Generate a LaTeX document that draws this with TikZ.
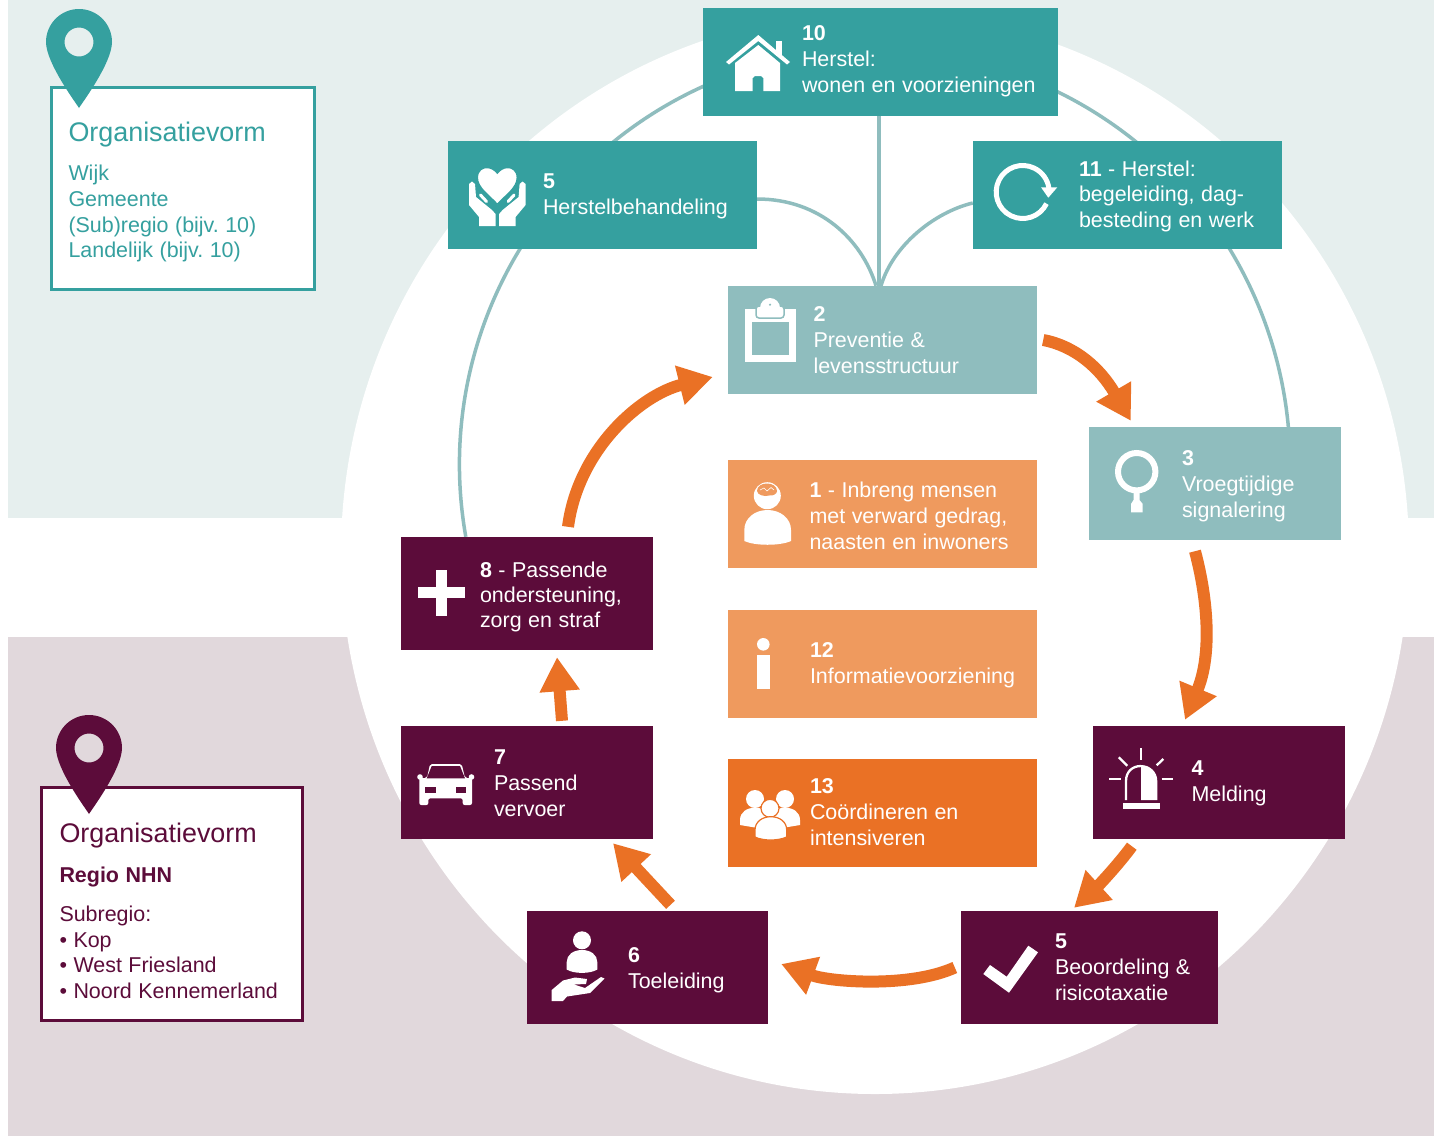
\documentclass[tikz,border=0pt]{standalone}
\usepackage{fontspec}
\setmainfont{Liberation Sans}
\usetikzlibrary{arrows.meta,backgrounds}

\definecolor{wijkbg}{HTML}{E6EFEE}
\definecolor{regiobg}{HTML}{E1D8DC}
\definecolor{tealbox}{HTML}{35A09F}
\definecolor{paletealbox}{HTML}{8FBDBE}
\definecolor{plumbox}{HTML}{5C0C3A}
\definecolor{softorange}{HTML}{EF9A5E}
\definecolor{deeporange}{HTML}{EA7125}

\newcommand{\stepfont}{\fontsize{21.45}{26}\selectfont\frenchspacing}
\newcommand{\infofont}{\fontsize{21.45}{25.7}\selectfont\frenchspacing}
\newcommand{\titlefont}{\fontsize{26.9}{25.7}\selectfont}

\tikzset{
  stepbox/.style n args={5}{fill=#1, text=white, font=\stepfont, align=left, inner sep=0pt,
    text width=#2pt, minimum height=#3pt, text depth=#5pt, execute at begin node={\leftskip=#4pt\spaceskip=6.5pt}},
  infobox/.style n args={5}{draw=#1, fill=white, text=#1, line width=3pt, font=\infofont, align=left, inner sep=0pt,
    text width=#2pt, minimum height=#3pt, text depth=#5pt, execute at begin node={\leftskip=#4pt\spaceskip=6.5pt}},
  ringline/.style={draw=paletealbox, line width=3.5pt},
  flowarrow/.style={draw=deeporange, line width=12pt, -{Triangle[length=34pt,width=38pt,fill=deeporange]}},
  locationpin/.pic={
    \path[pic actions, even odd rule] (0,0) .. controls (-3,-5) and (-33,-45) .. (-33,-66)
      arc[start angle=180, end angle=360, radius=33] .. controls (33,-45) and (3,-5) .. (0,0)
      (0,-66) circle[radius=14.5];
  }
}

\begin{document}
\begin{tikzpicture}[x=1pt,y=-1pt]
\useasboundingbox (0,0) rectangle (1434,1136);

\begin{scope}[on background layer]
\fill[wijkbg] (8,0) rectangle (1434,518);
\fill[regiobg] (8,637) rectangle (1434,1136);
\fill[white] (875,553) ellipse [x radius=534, y radius=541];
\end{scope}

% herstel
\node[stepbox={tealbox}{355}{108}{99}{58.6}] (wonen) at (880.5,62) {\textbf{10}\\Herstel:\\wonen en voorzieningen};
\node[stepbox={tealbox}{309}{108}{95}{27.6}] (herstelbeh) at (602.5,195) {\textbf{5}\\Herstelbehandeling};
\node[stepbox={tealbox}{309}{108}{106}{52.6}] (begeleiding) at (1127.5,195) {\textbf{11} - Herstel:\\[-0.5pt]begeleiding, dag-\\[-0.5pt]besteding en werk};

% keten
\node[stepbox={paletealbox}{309}{108}{85.5}{52.6}] (preventie) at (882.5,340) {\textbf{2}\\Preventie \&\\levensstructuur};
\node[stepbox={paletealbox}{252}{113}{93}{51.6}] (signalering) at (1215,483.5) {\textbf{3}\\Vroegtijdige\\signalering};
\node[stepbox={plumbox}{252}{113}{98.5}{28.2}] (melding) at (1219,782.5) {\textbf{4}\\Melding};
\node[stepbox={plumbox}{257}{113}{94}{53.2}] (beoordeling) at (1089.5,967.5) {\textbf{5}\\Beoordeling \&\\risicotaxatie};
\node[stepbox={plumbox}{241}{113}{101}{24.2}] (toeleiding) at (647.5,967.5) {\textbf{6}\\Toeleiding};
\node[stepbox={plumbox}{252}{113}{93}{51.6}] (vervoer) at (527,782.5) {\textbf{7}\\Passend\\vervoer};
\node[stepbox={plumbox}{252}{113}{79}{47.6}] (ondersteuning) at (527,593.5) {\textbf{8} - Passende\\[-1pt]ondersteuning,\\[-1pt]zorg en straf};

% midden
\node[stepbox={softorange}{309}{108}{81.5}{48.6}] (inbreng) at (882.5,514) {\textbf{1} - Inbreng mensen\\met verward gedrag,\\naasten en inwoners};
\node[stepbox={softorange}{309}{108}{82}{28.6}] (informatie) at (882.5,664) {\textbf{12}\\Informatievoorziening};
\node[stepbox={deeporange}{309}{108}{82}{54.6}] (coordineren) at (882.5,813) {\textbf{13}\\Coördineren en\\intensiveren};

% legenda
\node[infobox={tealbox}{263}{202.5}{17}{112.2}] (wijkinfo) at (183,188.25) {{\titlefont Organisatievorm}\\[13pt]Wijk\\Gemeente\\(Sub)regio (bijv. 10)\\Landelijk (bijv. 10)};
\node[infobox={plumbox}{261}{233}{18}{142.3}] (regioinfo) at (172,904) {{\titlefont Organisatievorm}\\[14pt]\textbf{Regio NHN}\\[13.3pt]Subregio:\\• Kop\\• West Friesland\\• Noord Kennemerland};
\pic[fill=tealbox] at (79,108) {locationpin};
\pic[fill=plumbox] at (89,814) {locationpin};

% ring
\begin{scope}[on background layer]
\draw[ringline] ([xshift=65pt]ondersteuning.north west) arc[start angle=170, end angle=354.8, radius=415.3];
\draw[ringline] ([xshift=-1.7pt]wonen.south) -- ([xshift=-3.7pt]preventie.north);
\draw[ringline] ([yshift=-4pt]herstelbeh.east) .. controls (820,199) and (862,240) .. ([xshift=-6.5pt]preventie.north);
\draw[ringline] ([yshift=-8pt]begeleiding.west) .. controls (935,212) and (893,245) .. ([xshift=-1.5pt]preventie.north);
\end{scope}

% pijlen
\draw[flowarrow] ([xshift=6pt]preventie.east) .. controls (1075,346) and (1100,368) .. ([xshift=42pt,yshift=6pt]signalering.north west);
\draw[flowarrow] ([xshift=-20pt,yshift=-11pt]signalering.south) .. controls (1208,600) and (1212,655) .. ([xshift=-34pt,yshift=6pt]melding.north);
\draw[flowarrow] ([xshift=39pt,yshift=-7pt]melding.south west) .. controls (1118,865) and (1098,886) .. ([xshift=-15.5pt,yshift=3pt]beoordeling.north);
\draw[flowarrow] ([xshift=-6pt]beoordeling.west) .. controls (910,988) and (830,982) .. ([xshift=13pt,yshift=3.5pt]toeleiding.east);
\draw[flowarrow] ([xshift=23pt,yshift=6pt]toeleiding.north) -- ([xshift=86pt,yshift=-4pt]vervoer.south);
\draw[flowarrow] ([xshift=35pt,yshift=5pt]vervoer.north) -- ([xshift=30pt,yshift=-7pt]ondersteuning.south);
\draw[flowarrow] ([xshift=41pt,yshift=10pt]ondersteuning.north) .. controls (578,450) and (640,395) .. ([xshift=-15pt,yshift=-37pt]preventie.west);

% huis
\fill[white] (726,62) -- (758.3,35) -- (790,62) -- (787,64.5) -- (758.3,41) -- (729,64.5) -- cycle;
\fill[white] (775.7,41) rectangle (782.3,56);
\fill[white] (735,63) -- (758.3,45) -- (780,63) -- (780,91) -- (763.3,91) -- (763.3,78) -- (761,76) -- (755,76) -- (752.7,78) -- (752.7,91) -- (735,91) -- cycle;

% handen met hart
\fill[white] (469,184) -- (472,181.5) -- (475,184) -- (476,197) -- (492,210) -- (495.5,214) -- (495.5,226) -- (479,226) -- (479,217) -- (469,205) -- cycle;
\fill[white] (525.6,184) -- (522.6,181.5) -- (519.6,184) -- (518.6,197) -- (502.6,210) -- (499.1,214) -- (499.1,226) -- (515.6,226) -- (515.6,217) -- (525.6,205) -- cycle;
\draw[tealbox, fill=white, line width=1.5pt] (497.3,204.5) .. controls (490,196) and (477,188) .. (477.3,177.5) .. controls (477.3,170) and (483,167) .. (487.5,167.5) .. controls (491,167.5) and (495,170) .. (497.3,173) .. controls (499.6,170) and (503.6,167.5) .. (507.1,167.5) .. controls (511.6,167) and (517.3,170) .. (517.3,177.5) .. controls (517.6,188) and (504.6,196) .. (497.3,204.5);
\draw[white, line width=3pt, line cap=round] (480.5,195) -- (486.5,201.5);
\draw[white, line width=3pt, line cap=round] (514.1,195) -- (508.1,201.5);

% kringloop
\draw[white, line width=5pt] (1046.5,203.6) arc[start angle=26, end angle=352, radius=26.5];
\fill[white] (1041,187.3) -- (1057.3,187.3) -- (1048.3,197.7) -- cycle;

% klembord
\fill[white] (745,309.3) rectangle (795.7,361.7);
\fill[paletealbox] (752.3,322.3) rectangle (789,355);
\draw[paletealbox, fill=white, line width=1.5pt, rounded corners=3pt] (756,306) rectangle (784,318);
\fill[white] (760,308) arc[start angle=180, end angle=360, radius=10] -- cycle;
\fill[paletealbox] (770,304.7) circle[radius=1.2];

% vergrootglas
\draw[white, line width=6pt] (1136.7,471.7) circle[radius=18.7];
\fill[white] (1133.5,491) -- (1139.5,491) -- (1139.5,500) -- (1142.7,504) -- (1142.7,512.3) -- (1131,512.3) -- (1131,504) -- (1133.5,500) -- cycle;

% persoon met brein
\fill[white] (767.3,495.7) circle[radius=13.5];
\fill[softorange] (757,491) .. controls (757,486) and (762,483.5) .. (767,483.5) .. controls (772,483.5) and (777,486) .. (777,491) .. controls (777,494) and (773,496) .. (769,495.5) .. controls (765,497) and (757,495) .. (757,491) -- cycle;
\draw[white, line width=0.6pt] (760,490) -- (764,488) -- (767,491) -- (771,487.5) -- (774,490);

% persoon lijf
\fill[white] (744.3,541) -- (744.3,530) .. controls (744.3,518) and (755,510) .. (767.6,510) .. controls (780,510) and (791,518) .. (791,530) -- (791,541) .. controls (780,546) and (755,546) .. (744.3,541) -- cycle;

% info
\fill[white] (763.3,644.3) circle[radius=6.3];
\fill[white] (757,655) rectangle (770,689);

% groep
\fill[white] (755,799) circle[radius=9];
\fill[white] (785,799) circle[radius=9];
\fill[white] (740,825) -- (740,820) .. controls (740,812) and (747,807.7) .. (755,807.7) .. controls (763,807.7) and (770,812) .. (770,820) -- (770,830) -- cycle;
\fill[white] (800,825) -- (800,820) .. controls (800,812) and (793,807.7) .. (785,807.7) .. controls (777,807.7) and (770,812) .. (770,820) -- (770,830) -- cycle;
\draw[deeporange, fill=white, line width=1.2pt] (770,808.3) circle[radius=9];
\draw[deeporange, fill=white, line width=1.2pt] (755,837) -- (755,830) .. controls (755,822) and (762,816.7) .. (770.8,816.7) .. controls (780,816.7) and (786.7,822) .. (786.7,830) -- (786.7,837) .. controls (778,841) and (763,841) .. (755,837) -- cycle;

% plus
\fill[white] (435.7,570) rectangle (447,615.7);
\fill[white] (418.3,587.3) rectangle (465,598.3);

% auto
\fill[white, rounded corners=2pt] (419.3,778) -- (427,778) -- (430,764) -- (461.7,764) -- (465,778) -- (472,778) -- (472,805) -- (462.7,805) -- (462.7,798.3) -- (428.3,798.3) -- (428.3,805) -- (419.3,805) -- cycle;
\fill[white] (420,777) circle[radius=2.8];
\fill[white] (471.5,777) circle[radius=2.8];
\fill[plumbox] (431.7,766) -- (460,766) -- (465,778.3) -- (426.7,778.3) -- cycle;
\fill[plumbox] (425,786.7) rectangle (435.7,793.3);
\fill[plumbox] (455.7,786.7) rectangle (466.3,793.3);

% persoon en hand
\fill[white] (582,940.3) circle[radius=9];
\fill[white] (566.7,969.5) -- (566.7,962) .. controls (566.7,955) and (573,950) .. (582,950) .. controls (591,950) and (597.3,955) .. (597.3,962) -- (597.3,969.5) .. controls (590,974) and (574,974) .. (566.7,969.5) -- cycle;
\fill[white] (551.7,990) -- (563,980.5) -- (575,977.5) -- (587,979) -- (586,984) -- (574,984.5) -- (585,988) -- (601,977) -- (604.5,978.5) -- (590,993) -- (567,996.5) -- (563,1001) -- (551.7,1001) -- cycle;

% sirene
\fill[white] (1123,802.7) rectangle (1160,809);
\draw[white, line width=2.3pt] (1126,800) -- (1126,781) .. controls (1126,772) and (1132,766) .. (1141,766);
\fill[white] (1141,765) .. controls (1150,765) and (1157.3,772) .. (1157.3,781) -- (1157.3,800) -- (1141,800) -- cycle;
\draw[white, line width=2.3pt] (1141,748.3) -- (1141,760);
\draw[white, line width=2.3pt] (1109.3,779.3) -- (1121,779.3);
\draw[white, line width=2.3pt] (1161.7,779.3) -- (1173.3,779.3);
\draw[white, line width=2.3pt] (1118.7,757.3) -- (1127.3,765.7);
\draw[white, line width=2.3pt] (1163.3,759) -- (1156.7,765.3);

% vinkje
\fill[white] (983.3,974) -- (990,965) -- (1006.7,976.7) -- (1028.3,945.7) -- (1038,952.3) -- (1009,992.7) -- cycle;
\end{tikzpicture}
\end{document}
